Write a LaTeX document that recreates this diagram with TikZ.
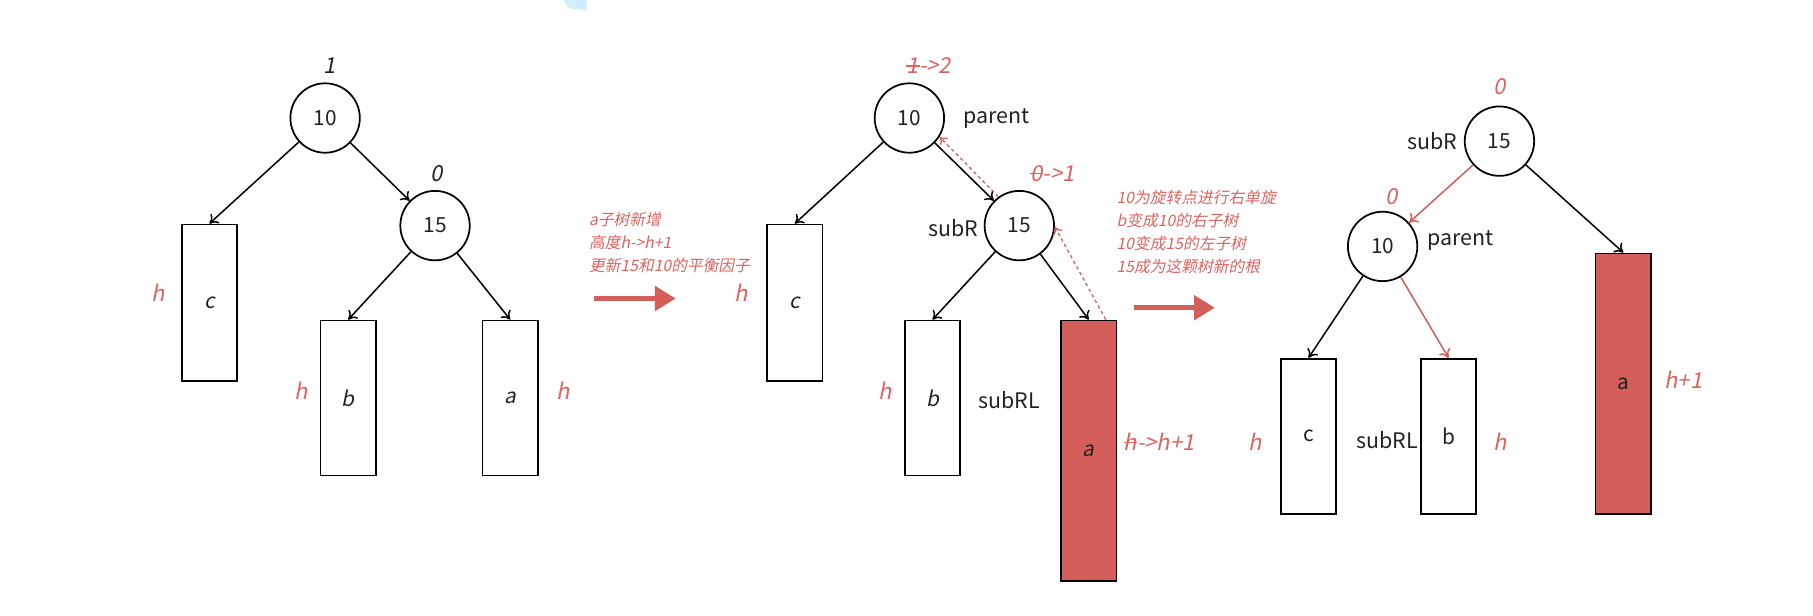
\documentclass[tikz,border=0pt]{standalone}
\usepackage{fontspec}
\setmainfont{Noto Sans CJK SC}[AutoFakeSlant=0.2]
\usetikzlibrary{arrows.meta}
\definecolor{rd}{RGB}{212,94,90}
\definecolor{rdt}{RGB}{222,98,94}
\definecolor{ink}{RGB}{34,34,34}
\definecolor{lb}{RGB}{205,238,250}
\newcommand\strk[1]{\ooalign{#1\cr\hidewidth\rule[0.33em]{0.6em}{0.08em}\hidewidth\cr}}
\begin{document}
\begin{tikzpicture}[x=1pt,y=-1pt,
  nd/.style={circle,draw=black,line width=1.5pt,minimum size=60pt,inner sep=0pt,font=\fontsize{18}{20}\selectfont,text=ink},
  bx/.style={draw=black,line width=1.5pt,minimum width=48pt,inner sep=0pt,font=\fontsize{18}{20}\selectfont,text=ink},
  bxr/.style={bx,fill=rd},
  lbl/.style={font=\fontsize{18.5}{20}\selectfont,text=ink,inner sep=0pt},
  rl/.style={font=\fontsize{19}{20}\selectfont\itshape,text=rdt,inner sep=0pt},
  bl/.style={font=\fontsize{19}{20}\selectfont\itshape,text=ink,inner sep=0pt},
  note/.style={font=\fontsize{13.6}{20}\selectfont\itshape,text=rdt,align=left,anchor=north west,inner sep=0pt},
  ar/.style={-{To[length=7pt,width=11pt]},line width=1.3pt,black},
  arr/.style={-{To[length=7pt,width=11pt]},line width=1.3pt,rd},
  dsh/.style={-{To[length=6pt,width=9pt]},line width=1.1pt,rd,dash pattern=on 3pt off 2.5pt},
  big/.style={-{Triangle[length=18pt,width=21pt]},line width=4pt,rd}]
\useasboundingbox (0,0) rectangle (1567,532);
\fill[lb] (487,0) -- (492,7) .. controls (498,8) .. (507,9) -- (507,0) -- cycle;

% ---------- tree 1 ----------
\node[nd] (t1n10) at (281,102) {10};
\node[nd] (t1n15) at (376,195) {15};
\node[bx,minimum height=135pt] (t1c) at (181,261.5) {\itshape c};
\node[bx,minimum height=134pt] (t1b) at (301,344) {\itshape b};
\node[bx,minimum height=134pt] (t1a) at (441,344) {\itshape a};
\node[bl] (t1f10) at (285,57) {1};
\node[bl] (t1f15) at (377,150) {0};
\node[rl] (t1hc) at (137,253) {h};
\node[rl] (t1hb) at (260,338) {h};
\node[rl] (t1ha) at (487,338) {h};
\draw[ar] (t1n10) -- (t1c.north);
\draw[ar] (t1n10) -- (t1n15);
\draw[ar] (t1n15) -- (t1b.north);
\draw[ar] (t1n15) -- (t1a.north);

\node[note] (n1) at (509,183) {a子树新增\\高度h->h+1\\更新15和10的平衡因子};
\coordinate (g1s) at (513,258);
\coordinate (g1e) at (584,258);
\draw[big] (g1s) -- (g1e);

% ---------- tree 2 ----------
\node[nd] (t2n10) at (786,102) {10};
\node[nd] (t2n15) at (881,195) {15};
\node[bx,minimum height=135pt] (t2c) at (687,261.5) {\itshape c};
\node[bx,minimum height=134pt] (t2b) at (806,344) {\itshape b};
\node[bxr,minimum height=225pt] (t2a) at (941,389.5) {\itshape a};
\node[rl] (t2f10) at (803,57) {\strk{1}->2};
\node[rl] (t2f15) at (910,150) {\strk{0}->1};
\node[lbl] (t2par) at (861,102) {parent};
\node[lbl] (t2sr) at (824,197) {subR};
\node[lbl] (t2srl) at (872,346) {subRL};
\node[rl] (t2hc) at (641,253) {h};
\node[rl] (t2hb) at (765,338) {h};
\node[rl,anchor=west] (t2ha) at (971,382) {\strk{h}->h+1};
\draw[ar] (t2n10) -- (t2c.north);
\draw[ar] (t2n10) -- (t2n15);
\draw[ar] (t2n15) -- (t2b.north);
\draw[ar] (t2n15) -- (t2a.north);
\draw[dsh] (t2n15.126) -- (t2n10.-32);
\draw[dsh] ([xshift=-10pt]t2a.north east) -- (t2n15.-2);

\node[note] (n2) at (965,164) {10为旋转点进行右单旋\\b变成10的右子树\\10变成15的左子树\\15成为这颗树新的根};
\coordinate (g2s) at (980,266);
\coordinate (g2e) at (1050,266);
\draw[big] (g2s) -- (g2e);

% ---------- tree 3 ----------
\node[nd] (t3n15) at (1296,122) {15};
\node[nd] (t3n10) at (1195,213) {10};
\node[bx,minimum height=134pt] (t3c) at (1131,377) {c};
\node[bx,minimum height=134pt] (t3b) at (1252,377) {b};
\node[bxr,minimum height=225pt] (t3a) at (1403,331.5) {a};
\node[rl] (t3f15) at (1296,75) {0};
\node[rl] (t3f10) at (1203,170) {0};
\node[lbl] (t3sr) at (1238,122) {subR};
\node[lbl] (t3par) at (1262,208) {parent};
\node[lbl] (t3srl) at (1199,380) {subRL};
\node[rl] (t3hc) at (1085,382) {h};
\node[rl] (t3hb) at (1297,382) {h};
\node[rl] (t3ha) at (1455,328) {h+1};
\draw[arr] (t3n15) -- (t3n10);
\draw[ar] (t3n15) -- (t3a.north);
\draw[ar] (t3n10) -- (t3c.north);
\draw[arr] (t3n10) -- (t3b.north);
\end{tikzpicture}
\end{document}
